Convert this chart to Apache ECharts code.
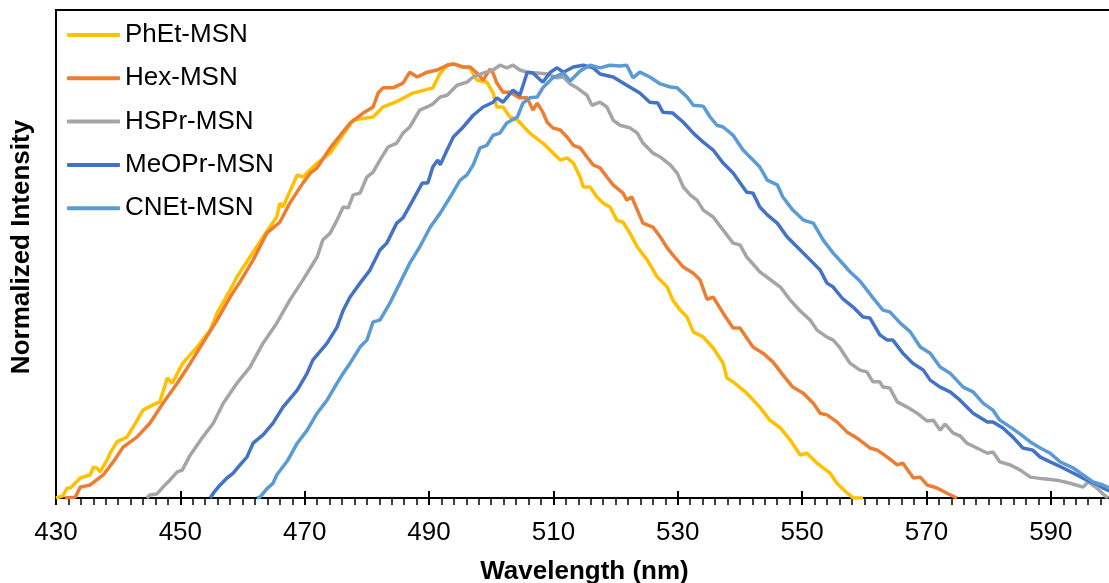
<!DOCTYPE html>
<html>
<head>
<meta charset="utf-8">
<script src="https://cdn.jsdelivr.net/npm/echarts@6/dist/echarts.min.js"></script>
<style>
html,body{margin:0;padding:0;background:#fff;}
#chart{width:1109px;height:583px;}
</style>
</head>
<body>
<div id="chart"></div>
<script>
const seriesNames = ['PhEt-MSN','Hex-MSN','HSPr-MSN','MeOPr-MSN','CNEt-MSN'];
const seriesColors = ['#FFC000','#ED7D31','#A5A5A5','#4472C4','#5B9BD5'];

const phetData = [[430.0,0],[431.1,0.005],[431.8,0.023],[432.3,0.023],[433.9,0.046],[434.3,0.048],[435.5,0.053],[436.0,0.071],[436.6,0.069],[437.1,0.060],[438.2,0.087],[438.7,0.103],[439.8,0.129],[441.4,0.140],[442.4,0.163],[444.0,0.202],[445.6,0.214],[446.7,0.221],[447.9,0.276],[448.7,0.264],[450.4,0.310],[452.7,0.347],[454.8,0.386],[455.9,0.425],[458.0,0.478],[459.1,0.508],[461.2,0.554],[463.3,0.600],[465.5,0.646],[466.0,0.678],[466.5,0.669],[468.8,0.743],[469.7,0.738],[472.0,0.770],[474.1,0.793],[477.8,0.869],[481.0,0.876],[482.6,0.899],[484.2,0.908],[485.3,0.915],[487.4,0.931],[490.6,0.943],[491.8,0.977],[492.9,0.995],[493.9,0.998],[495.5,0.991],[496.6,0.989],[497.7,0.961],[499.3,0.956],[500.3,0.931],[500.9,0.899],[501.9,0.899],[503.0,0.876],[504.2,0.869],[506.2,0.839],[508.3,0.816],[511.1,0.777],[512.2,0.782],[513.2,0.770],[514.3,0.738],[514.8,0.715],[515.9,0.715],[517.0,0.692],[518.0,0.678],[519.1,0.669],[520.2,0.639],[521.2,0.634],[522.3,0.609],[523.5,0.577],[525.1,0.547],[526.7,0.508],[528.3,0.485],[529.2,0.455],[530.4,0.432],[531.5,0.416],[532.5,0.382],[534.1,0.370],[535.7,0.345],[537.3,0.310],[537.9,0.276],[538.9,0.267],[541.1,0.241],[543.2,0.209],[544.8,0.179],[546.5,0.161],[548.1,0.133],[549.7,0.099],[550.8,0.103],[552.4,0.080],[554.5,0.057],[555.6,0.034],[556.9,0.016],[558.2,0],[559.8,0]];

const hexData = [[431.4,0],[433.1,0.002],[433.9,0.025],[435.5,0.030],[437.6,0.053],[439.2,0.083],[440.8,0.117],[443.0,0.140],[445.1,0.172],[447.2,0.218],[449.5,0.264],[451.6,0.310],[453.6,0.356],[455.9,0.409],[458.0,0.462],[459.6,0.497],[461.7,0.547],[463.9,0.609],[466.0,0.634],[467.6,0.678],[469.7,0.724],[470.9,0.747],[472.0,0.759],[474.1,0.805],[477.3,0.862],[479.4,0.885],[481.0,0.899],[481.8,0.931],[482.6,0.943],[484.2,0.943],[485.8,0.954],[486.9,0.979],[488.1,0.968],[489.7,0.979],[491.3,0.984],[492.9,0.995],[493.9,0.998],[495.5,0.991],[496.6,0.991],[497.7,0.977],[498.7,0.961],[499.8,0.986],[500.3,0.977],[500.9,0.954],[501.9,0.933],[503.0,0.933],[504.6,0.920],[505.8,0.920],[506.7,0.892],[507.4,0.908],[508.3,0.887],[509.0,0.864],[509.9,0.851],[511.1,0.846],[512.2,0.830],[513.2,0.811],[514.3,0.805],[515.4,0.784],[516.4,0.766],[517.5,0.759],[518.6,0.738],[519.6,0.720],[521.2,0.701],[521.8,0.685],[522.6,0.692],[523.5,0.662],[524.4,0.632],[526.0,0.623],[527.2,0.600],[528.3,0.575],[529.2,0.559],[530.9,0.531],[532.5,0.517],[533.6,0.501],[534.7,0.457],[535.7,0.462],[537.3,0.425],[538.9,0.391],[540.0,0.391],[542.1,0.347],[543.7,0.333],[545.3,0.313],[546.9,0.283],[548.5,0.255],[550.2,0.241],[551.8,0.218],[552.9,0.195],[554.0,0.191],[555.6,0.175],[557.2,0.152],[558.8,0.138],[560.9,0.115],[562.1,0.110],[563.7,0.094],[565.3,0.076],[566.2,0.080],[567.9,0.046],[569.0,0.048],[570.1,0.030],[571.7,0.023],[573.3,0.011],[574.9,0]];

const hsprData = [[444.6,0],[445.1,0.007],[446.2,0.009],[447.2,0.025],[448.3,0.041],[449.5,0.060],[450.3,0.064],[451.6,0.099],[453.6,0.140],[455.3,0.172],[456.9,0.218],[459.1,0.264],[461.2,0.301],[463.3,0.356],[465.5,0.402],[467.6,0.455],[469.7,0.501],[472.0,0.554],[472.9,0.593],[474.1,0.609],[475.2,0.639],[476.2,0.669],[477.0,0.667],[477.8,0.697],[478.9,0.701],[480.0,0.738],[481.0,0.749],[482.1,0.777],[483.4,0.807],[484.8,0.816],[485.8,0.839],[486.9,0.853],[488.5,0.892],[489.7,0.899],[490.6,0.906],[491.8,0.922],[492.9,0.926],[494.5,0.949],[496.1,0.956],[497.1,0.968],[498.7,0.977],[500.3,0.984],[501.4,0.995],[502.5,0.989],[503.5,0.995],[504.6,0.984],[505.8,0.979],[507.4,0.977],[509.0,0.975],[510.6,0.966],[511.6,0.968],[512.7,0.952],[513.8,0.943],[515.4,0.926],[516.2,0.903],[517.5,0.910],[518.6,0.899],[519.6,0.869],[520.7,0.857],[522.3,0.851],[523.5,0.839],[524.4,0.816],[526.0,0.793],[527.2,0.784],[528.8,0.766],[529.9,0.747],[530.9,0.715],[532.0,0.697],[533.1,0.685],[534.1,0.662],[535.7,0.646],[537.3,0.616],[538.9,0.586],[540.0,0.582],[541.1,0.554],[542.1,0.538],[543.2,0.520],[544.8,0.503],[546.5,0.485],[548.1,0.455],[549.7,0.430],[551.3,0.409],[552.4,0.386],[554.0,0.370],[555.0,0.363],[556.1,0.345],[557.7,0.310],[559.3,0.294],[560.4,0.290],[561.4,0.267],[562.5,0.267],[563.0,0.255],[564.1,0.253],[565.3,0.221],[566.9,0.209],[568.5,0.195],[570.1,0.177],[571.1,0.179],[572.2,0.156],[573.0,0.170],[574.3,0.149],[575.4,0.143],[576.5,0.126],[578.1,0.115],[579.8,0.103],[580.7,0.106],[581.8,0.083],[583.5,0.076],[585.1,0.064],[586.7,0.048],[588.8,0.044],[591.0,0.041],[593.1,0.034],[595.2,0.025],[596.0,0.037],[597.4,0.023],[598.4,0.009],[599.2,0]];

const meoprData = [[454.8,0],[455.3,0.011],[456.4,0.030],[457.5,0.046],[458.5,0.057],[459.6,0.076],[460.7,0.094],[461.7,0.126],[463.3,0.145],[464.9,0.172],[466.5,0.209],[468.8,0.248],[470.4,0.287],[471.3,0.317],[473.6,0.356],[475.2,0.393],[476.2,0.432],[477.3,0.462],[478.9,0.494],[480.5,0.524],[482.1,0.570],[483.2,0.586],[484.8,0.632],[485.8,0.644],[487.4,0.685],[488.9,0.724],[489.8,0.724],[490.6,0.761],[491.4,0.777],[491.8,0.766],[492.9,0.800],[493.9,0.830],[495.5,0.853],[497.1,0.880],[498.7,0.899],[500.3,0.910],[500.9,0.920],[501.9,0.910],[503.5,0.938],[504.6,0.926],[505.8,0.979],[506.7,0.977],[508.3,0.956],[509.5,0.979],[510.6,0.989],[511.6,0.979],[513.2,0.991],[514.8,0.995],[516.4,0.989],[517.5,0.975],[519.6,0.968],[521.8,0.949],[523.9,0.931],[525.5,0.910],[526.8,0.908],[527.6,0.887],[529.2,0.885],[530.9,0.864],[532.5,0.839],[534.1,0.818],[535.7,0.800],[537.3,0.770],[538.9,0.747],[541.1,0.703],[542.1,0.701],[543.2,0.669],[544.4,0.651],[546.0,0.632],[547.6,0.600],[549.7,0.570],[551.8,0.540],[552.9,0.524],[554.0,0.494],[555.0,0.485],[556.6,0.457],[558.2,0.439],[559.8,0.416],[560.9,0.414],[562.5,0.375],[563.7,0.363],[564.6,0.363],[566.2,0.333],[567.8,0.310],[569.5,0.294],[570.6,0.271],[572.2,0.255],[573.8,0.244],[575.4,0.225],[577.5,0.195],[579.8,0.175],[580.7,0.175],[582.3,0.161],[583.9,0.140],[585.5,0.115],[587.1,0.110],[588.3,0.094],[589.9,0.083],[592.0,0.069],[594.2,0.053],[595.8,0.041],[597.4,0.032],[598.4,0.023],[599.4,0.016]];

const cnetData = [[462.3,0],[462.8,0.002],[463.9,0.021],[464.9,0.034],[465.5,0.053],[467.2,0.085],[468.8,0.126],[470.4,0.156],[472.0,0.195],[473.6,0.225],[475.2,0.264],[476.2,0.287],[477.3,0.310],[478.9,0.347],[480.0,0.363],[481.0,0.405],[482.1,0.409],[483.7,0.448],[485.3,0.494],[486.9,0.540],[488.5,0.577],[490.2,0.623],[491.8,0.655],[493.4,0.692],[495.0,0.731],[496.1,0.743],[497.1,0.766],[498.2,0.805],[499.3,0.811],[500.3,0.834],[501.4,0.839],[502.5,0.862],[504.2,0.876],[505.1,0.908],[506.2,0.920],[507.4,0.922],[508.3,0.943],[509.9,0.966],[511.6,0.977],[512.7,0.959],[514.3,0.982],[515.9,0.995],[517.5,0.989],[519.1,0.995],[520.7,0.993],[521.8,0.995],[522.8,0.966],[523.9,0.979],[525.5,0.968],[527.2,0.952],[528.8,0.945],[529.9,0.943],[531.5,0.922],[532.5,0.903],[534.1,0.901],[535.2,0.876],[536.3,0.857],[537.3,0.853],[538.9,0.834],[540.5,0.800],[542.1,0.777],[543.2,0.761],[544.4,0.731],[546.0,0.720],[546.9,0.692],[548.5,0.662],[550.2,0.639],[551.8,0.632],[553.4,0.593],[555.0,0.563],[556.6,0.538],[557.7,0.520],[559.3,0.499],[561.4,0.460],[563.0,0.432],[564.1,0.428],[565.8,0.402],[567.4,0.382],[569.0,0.347],[570.6,0.333],[572.2,0.301],[573.8,0.287],[575.9,0.255],[577.5,0.244],[579.1,0.218],[580.7,0.202],[581.8,0.179],[583.5,0.163],[585.1,0.147],[586.7,0.129],[588.3,0.115],[589.9,0.103],[591.5,0.083],[593.6,0.069],[595.2,0.053],[596.8,0.037],[598.4,0.030],[599.4,0.023]];

const allData = [phetData, hexData, hsprData, meoprData, cnetData];

const xMin = 430, xMax = 600, xStep = 20;
const FONT = 'Liberation Sans, Arial, sans-serif';

const chart = echarts.init(document.getElementById('chart'));
chart.setOption({
  animation: false,
  backgroundColor: '#fff',
  grid: {left: 56, top: 10, width: 1057, height: 488, outerBoundsMode: 'none', containLabel: false,
         show: true, borderColor: '#000', borderWidth: 2, backgroundColor: 'transparent'},
  legend: {
    orient: 'vertical', left: 62, top: 17, itemWidth: 53, itemHeight: 4, itemGap: 17.3,
    icon: 'roundRect',
    textStyle: {fontSize: 26, color: '#000', fontFamily: FONT},
    data: seriesNames
  },
  xAxis: [
    {
      type: 'value', min: xMin, max: xMax, interval: xStep, position: 'bottom',
      axisLine: {show: true, lineStyle: {color: '#000', width: 2}},
      axisTick: {show: true, length: 7, lineStyle: {color: '#000', width: 2}},
      minorTick: {show: true, splitNumber: 10, length: 7, lineStyle: {color: '#000', width: 1.5}},
      axisLabel: {fontSize: 26, color: '#000', margin: 22, fontFamily: FONT, showMaxLabel: false},
      splitLine: {show: false},
      name: 'Wavelength (nm)', nameLocation: 'middle', nameGap: 61,
      nameTextStyle: {fontSize: 26, fontWeight: 'bold', color: '#000', fontFamily: FONT}
    },
    {
      type: 'value', min: xMin, max: xMax, interval: xStep, position: 'top', offset: -488,
      axisLine: {show: false},
      axisTick: {show: true, length: 7, lineStyle: {color: '#000', width: 2}},
      axisLabel: {show: false},
      splitLine: {show: false}
    }
  ],
  yAxis: {
    type: 'value', min: 0, max: 1.122,
    axisLine: {show: true, lineStyle: {color: '#000', width: 2}},
    axisTick: {show: false}, axisLabel: {show: false}, splitLine: {show: false},
    name: 'Normalized Intensity', nameLocation: 'middle', nameGap: 21,
    nameTextStyle: {fontSize: 26, fontWeight: 'bold', color: '#000', fontFamily: FONT, padding: [0, 0, 0, 14]}
  },
  series: seriesNames.map((n, i) => ({
    name: n, type: 'line', xAxisIndex: 0, data: allData[i], symbol: 'none', clip: true,
    lineStyle: {color: seriesColors[i], width: 3.5}, itemStyle: {color: seriesColors[i]}
  }))
});
</script>
</body>
</html>
